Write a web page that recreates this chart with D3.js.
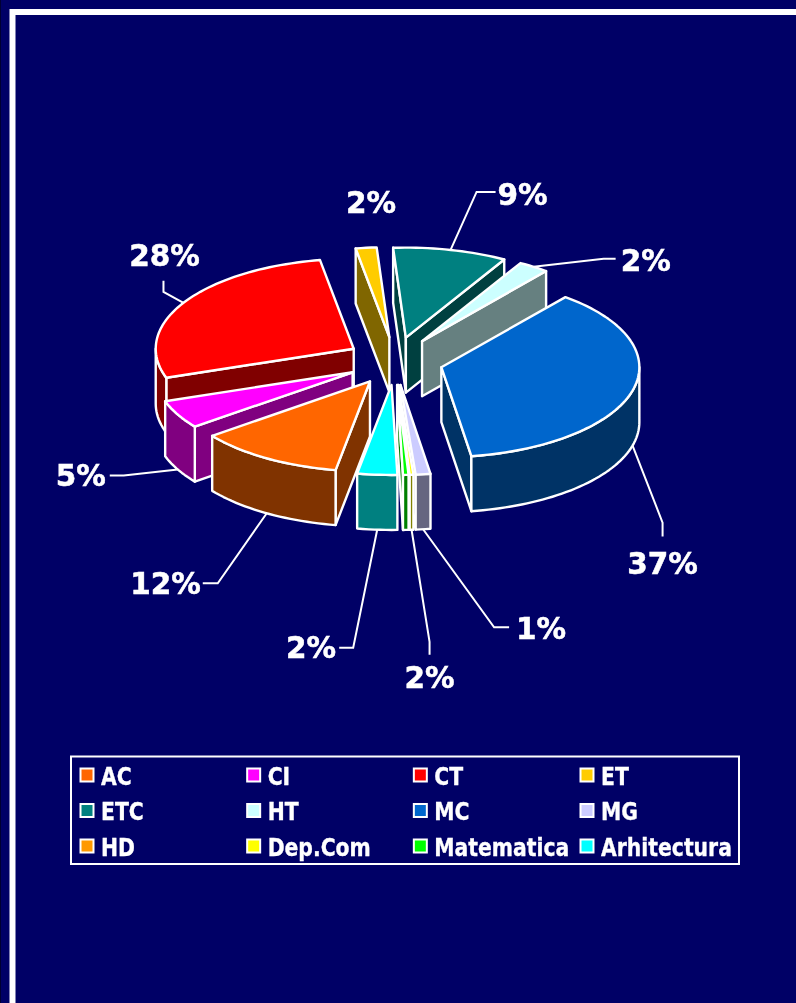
<!DOCTYPE html>
<html><head><meta charset="utf-8">
<script src="https://cdn.jsdelivr.net/npm/d3@7/dist/d3.min.js"></script>
<style>html,body{margin:0;padding:0;background:#000066;overflow:hidden}svg{display:block;filter:blur(0.35px)}</style>
</head><body><svg id="c" width="796" height="1003"></svg>
<script>
const categories = ["AC","CI","CT","ET","ETC","HT","MC","MG","HD","Dep.Com","Matematica","Arhitectura"];
const values     = [11.9,5.1,27.5,1.7,9.3,2.5,36.8,1.2,0,0.3,0.45,3.25];
const pctLabels  = ["12%","5%","28%","2%","9%","2%","37%","1%",null,"2%",null,"2%"];
const colors     = ["#FF6600","#FF00FF","#FF0000","#FFCC00","#008080","#CCFFFF","#0066CC","#CCCCFF","#FF9900","#FFFF00","#00FF00","#00FFFF"];

// layout (not data)
const W=796,H=1003, cx=395, cy=361, rx=198, ry=90, ex=48, ey=24, depth=55;
const leader = { // elbow offsets from the rim anchor; text anchor offsets from the line end
  AC:[[-49,70],[-15,0]], CI:[[-54,6],[-14,0]], CT:[[-20,-11],[0,-11]], ETC:[[26,-58],[19,0]],
  HT:[[70,-8],[12,0]], MC:[[30,77],[0,14]], MG:[[71,98],[15,0]], "Dep.Com":[[18,112],[0,13]],
  Arhitectura:[[-24,118],[-14,0]]
};
const labelPos = {AC:["end",-2,11],CI:["end",-4,11],CT:["middle",1,-15],ET:["middle",0,0],ETC:["start",2,13],
  HT:["start",5,12],MC:["middle",0,37],MG:["start",7,12],"Dep.Com":["middle",0,33],Arhitectura:["end",-3,10]};

const svg=d3.select("#c");
const unitX=d3.scaleLinear().domain([-1,1]).range([-rx,rx]);
const unitY=d3.scaleLinear().domain([-1,1]).range([-ry,ry]);
const explodeX=d3.scaleLinear().domain([-1,1]).range([-ex,ex]);
const explodeY=d3.scaleLinear().domain([-1,1]).range([-ey,ey]);

// background and frame
svg.append("rect").attr("width",W).attr("height",H).attr("fill","#000066");
svg.append("rect").attr("x",0).attr("y",0).attr("width",1).attr("height",H).attr("fill","#000033");
svg.append("path").attr("d",`M12.5,${H}V12H${W}`).attr("fill","none").attr("stroke","#fff").attr("stroke-width",6);

// pie: d3 angle 0 = 12 o'clock, first slice begins just past 6 o'clock
const start=190*Math.PI/180;
const pie=d3.pie().sort(null).value(d=>d.v).startAngle(start).endAngle(start+2*Math.PI);
const rows=categories.map((c,i)=>({c,v:values[i],col:colors[i],lab:pctLabels[i]}));
const arcs=pie(rows).map(a=>{
  const t0=a.startAngle-Math.PI/2,t1=a.endAngle-Math.PI/2,m=(t0+t1)/2;
  const hx=cx+explodeX(Math.cos(m)),hy=cy+explodeY(Math.sin(m));
  return {...a,t0,t1,m,hx,hy,rim:t=>[hx+unitX(Math.cos(t)),hy+unitY(Math.sin(t))]};
});
const line=d3.line();
function sample(a,b){const n=Math.max(2,Math.ceil((b-a)/0.03));return d3.range(n+1).map(i=>a+(b-a)*i/n);}
function shade(col){const c=d3.rgb(col);return d3.rgb(c.r/2,c.g/2,c.b/2).formatHex();}
const down=p=>[p[0],p[1]+depth];
function face(pts,fill){svg.append("path").attr("d",line(pts)+"Z").attr("fill",fill).attr("stroke","#fff").attr("stroke-width",2.4).attr("stroke-linejoin","round");}

// leader lines sit beneath the pie
arcs.forEach(a=>{
  const l=leader[a.data.c]; if(!l) return;
  let p=a.rim(a.m); if(Math.sin(a.m)>0) p=down(p);
  const e=[p[0]+l[0][0],p[1]+l[0][1]], f=[e[0]+l[1][0],e[1]+l[1][1]];
  a.end=f;
  svg.append("path").attr("d",line([p,e,f])).attr("fill","none").attr("stroke","#fff").attr("stroke-width",2);
});

// painter's order: back to front by hub depth
const drawOrder=arcs.filter(a=>a.value>0).slice().sort((a,b)=>a.hy-b.hy);
drawOrder.forEach(a=>{
  const dark=shade(a.data.col), hub=[a.hx,a.hy];
  if(Math.cos(a.t0)<0){const r=a.rim(a.t0);face([hub,r,down(r),down(hub)],dark);}
  if(Math.cos(a.t1)>0){const r=a.rim(a.t1);face([hub,r,down(r),down(hub)],dark);}
  // outer wall: only the part of the rim that faces the viewer
  const segs=[[a.t0,a.t1],[a.t0-2*Math.PI,a.t1-2*Math.PI]];
  segs.forEach(([s,e])=>{
    const lo=Math.max(s,0),hi=Math.min(e,Math.PI);
    if(hi>lo){const top=sample(lo,hi).map(a.rim);face(top.concat(top.map(down).reverse()),dark);}
  });
  face([hub].concat(sample(a.t0,a.t1).map(a.rim)),a.data.col);
});

// percent labels
const font="'DejaVu Sans',Verdana,sans-serif";
arcs.forEach(a=>{
  if(!a.data.lab) return;
  const c=a.data.c,lp=labelPos[c];
  let base=a.end;
  if(!base){base=a.rim(a.m);base=[base[0]+5,base[1]-35];}
  svg.append("text").attr("x",base[0]+lp[1]).attr("y",base[1]+lp[2]).attr("text-anchor",lp[0])
    .attr("font-family",font).attr("font-weight",700).attr("font-size",29.5)
    .attr("stroke","#fff").attr("stroke-width",0.5).attr("fill","#fff").text(a.data.lab);
});

// legend
const colX=d3.scalePoint().domain(d3.range(4)).range([80,580]);
const rowY=d3.scalePoint().domain(d3.range(3)).range([775,846]);
svg.append("rect").attr("x",71).attr("y",756.5).attr("width",668).attr("height",107.5).attr("fill","none").attr("stroke","#fff").attr("stroke-width",2);
rows.forEach((d,i)=>{
  const x=colX(i%4),y=rowY(Math.floor(i/4));
  svg.append("rect").attr("x",x+0.5).attr("y",y-6.5).attr("width",13).attr("height",13).attr("fill",d.col).attr("stroke","#fff").attr("stroke-width",2);
  svg.append("text").attr("transform",`translate(${x+21},${y+9.5}) scale(0.97,1.15)`)
    .attr("font-family",font).attr("font-weight",700).attr("font-size",21)
    .attr("stroke","#fff").attr("stroke-width",0.3).attr("fill","#fff").text(d.c);
});
</script></body></html>
